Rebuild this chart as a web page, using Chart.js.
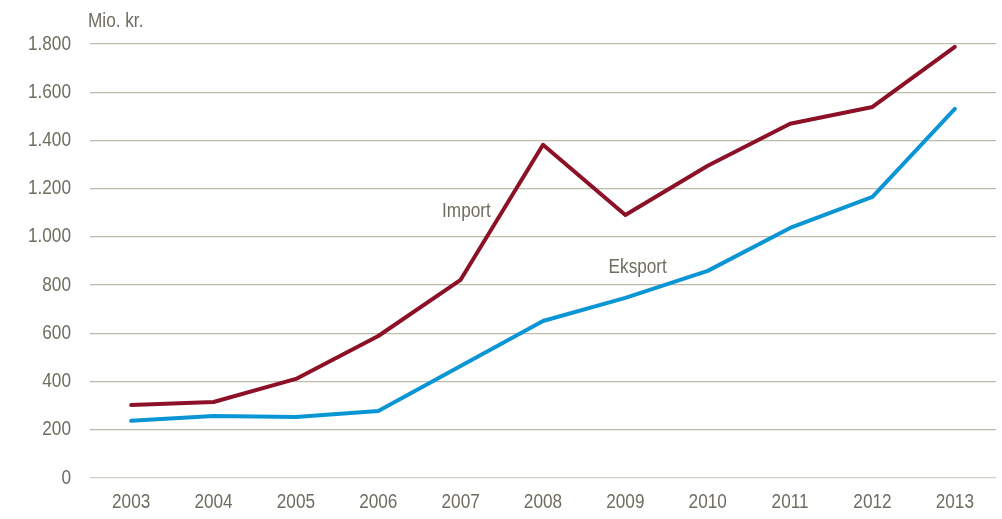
<!DOCTYPE html>
<html>
<head>
<meta charset="utf-8">
<script src="https://cdn.jsdelivr.net/npm/chart.js@4/dist/chart.umd.min.js"></script>
<style>
html,body{margin:0;padding:0;background:#fff;}
#wrap{width:1002px;height:519px;position:relative;}
</style>
</head>
<body>
<div id="wrap"><canvas id="c" width="1002" height="519"></canvas></div>
<script>
const years = ['2003','2004','2005','2006','2007','2008','2009','2010','2011','2012','2013'];
const importValues = [303, 315, 411, 589, 822, 1382, 1091, 1295, 1469, 1539, 1788];
const eksportValues = [237, 257, 253, 278, 465, 651, 747, 859, 1037, 1166, 1531];
const yTicks = [0, 200, 400, 600, 800, 1000, 1200, 1400, 1600, 1800];
const unitLabel = 'Mio. kr.';
const seriesNames = ['Import', 'Eksport'];

const textColor = '#6f6d60';
const fontFamily = "'Liberation Sans', Arial, sans-serif";
const fontSize = 20;
const narrow = 0.86;

function narrowText(ctx, text, x, y, align) {
  ctx.save();
  ctx.translate(x, y);
  ctx.scale(narrow, 1);
  ctx.textAlign = align;
  ctx.textBaseline = 'middle';
  ctx.fillText(text, 0, 0);
  ctx.restore();
}

const labelPlugin = {
  id: 'labels',
  afterDatasetsDraw(chart) {
    const ctx = chart.ctx;
    const x = chart.scales.x, y = chart.scales.y;
    ctx.save();
    ctx.fillStyle = textColor;
    ctx.font = fontSize + 'px ' + fontFamily;
    // axis tick labels from the scales
    y.ticks.forEach((t, i) => {
      narrowText(ctx, t.value.toLocaleString('da-DK'), 71, y.getPixelForTick(i), 'right');
    });
    x.ticks.forEach((t, i) => {
      narrowText(ctx, years[t.value], x.getPixelForTick(i), 502, 'center');
    });
    // annotations
    narrowText(ctx, seriesNames[0], x.getPixelForValue(4.07), y.getPixelForValue(1105), 'center');
    narrowText(ctx, seriesNames[1], x.getPixelForValue(6.15), y.getPixelForValue(873), 'center');
    narrowText(ctx, unitLabel, 88, 21, 'left');
    ctx.restore();
  }
};

new Chart(document.getElementById('c'), {
  type: 'line',
  data: {
    labels: years,
    datasets: [
      { label: seriesNames[0], data: importValues, borderColor: '#8c1026', borderWidth: 4, pointRadius: 0, tension: 0, borderCapStyle: 'round', borderJoinStyle: 'round' },
      { label: seriesNames[1], data: eksportValues, borderColor: '#0a96d4', borderWidth: 4, pointRadius: 0, tension: 0, borderCapStyle: 'round', borderJoinStyle: 'round' }
    ]
  },
  options: {
    responsive: false,
    animation: false,
    layout: { padding: { left: 0, right: 6, top: 44, bottom: 0 } },
    plugins: { legend: { display: false }, tooltip: { enabled: false } },
    scales: {
      x: {
        offset: true,
        grid: { display: false, drawTicks: false },
        border: { display: false },
        ticks: { color: 'rgba(0,0,0,0)', font: { family: fontFamily, size: 18 }, padding: 12, maxRotation: 0, autoSkip: false },
        afterFit(s) { s.height = 41; }
      },
      y: {
        min: 0, max: 1800,
        afterBuildTicks(s) { s.ticks = yTicks.map(v => ({ value: v })); },
        grid: {
          color: ctx => ctx.tick && ctx.tick.value === 0 ? '#cfcfc6' : '#bdbcaa',
          lineWidth: 1.3,
          drawTicks: false
        },
        border: { display: false },
        ticks: {
          color: 'rgba(0,0,0,0)',
          font: { family: fontFamily, size: 18 },
          padding: 20,
          callback: v => v.toLocaleString('da-DK')
        },
        afterFit(s) { s.width = 90; }
      }
    }
  },
  plugins: [labelPlugin]
});
</script>
</body>
</html>
